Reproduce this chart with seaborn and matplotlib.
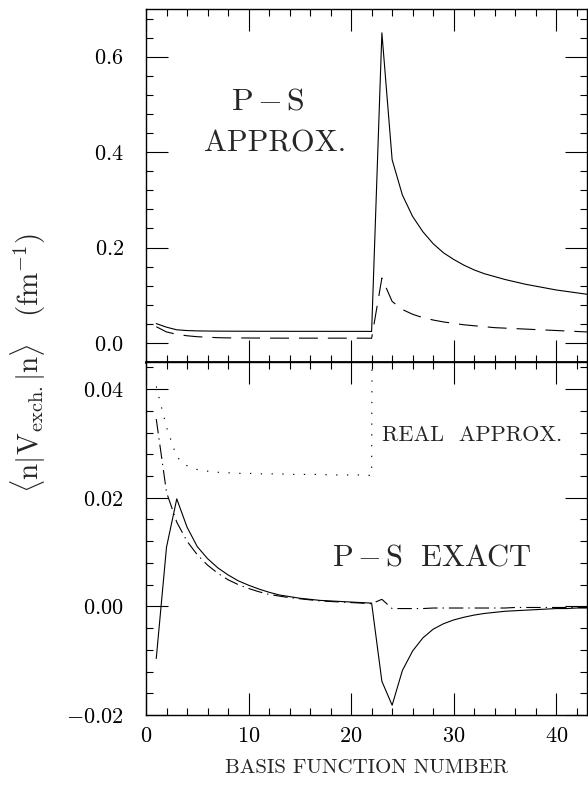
import matplotlib
matplotlib.use('Agg')
import matplotlib.pyplot as plt
import seaborn as sns
from matplotlib.ticker import MultipleLocator, FuncFormatter

# numero de funcion de base
n = list(range(1, 44))

# P-S approx: linea solida arriba, punteada ("REAL APPROX.") abajo
ps_approx = [0.0405, 0.0330, 0.0275, 0.0259, 0.0252, 0.0249, 0.0247, 0.0246, 0.0245, 0.0245,
             0.0244, 0.0244, 0.0244, 0.0243, 0.0243, 0.0243, 0.0243, 0.0242, 0.0242, 0.0242,
             0.0242, 0.0241, 0.650, 0.384, 0.310, 0.265, 0.233, 0.208, 0.189, 0.175,
             0.163, 0.153, 0.145, 0.139, 0.133, 0.128, 0.123, 0.119, 0.115, 0.111,
             0.108, 0.105, 0.102]
# P-S approx, linea discontinua (panel superior)
ps_approx_dash = [0.034, 0.023, 0.018, 0.015, 0.013, 0.012, 0.011, 0.0105, 0.0105, 0.0103,
                  0.0102, 0.0101, 0.0100, 0.0100, 0.0100, 0.0100, 0.0100, 0.0100, 0.0100, 0.0100,
                  0.0100, 0.0098, 0.136, 0.087, 0.070, 0.060, 0.053, 0.048, 0.044, 0.041,
                  0.038, 0.036, 0.034, 0.032, 0.031, 0.030, 0.029, 0.028, 0.027, 0.026,
                  0.025, 0.024, 0.023]
# P-S exact, linea solida (panel inferior)
ps_exact = [-0.0096, 0.0109, 0.0198, 0.0146, 0.0110, 0.0088, 0.0071, 0.0058, 0.0047, 0.0039,
            0.0032, 0.0026, 0.0021, 0.0018, 0.0015, 0.0013, 0.0011, 0.0010, 0.0009, 0.0008,
            0.0007, 0.0006, -0.0138, -0.0182, -0.0118, -0.0082, -0.0058, -0.0042, -0.0032, -0.0025,
            -0.0020, -0.0016, -0.0013, -0.0011, -0.0009, -0.0008, -0.0007, -0.0006, -0.0005, -0.0004,
            -0.0004, -0.0003, -0.0003]
# linea punto-raya (panel inferior)
ps_exact_dd = [0.0345, 0.0210, 0.0155, 0.0120, 0.0095, 0.0076, 0.0061, 0.0049, 0.0040, 0.0033,
               0.0027, 0.0022, 0.0019, 0.0016, 0.0014, 0.0012, 0.0010, 0.0009, 0.0008, 0.0007,
               0.0006, 0.0005, 0.0013, -0.0004, -0.0004, -0.0004, -0.0004, -0.0003, -0.0003, -0.0003,
               -0.0003, -0.0003, -0.0003, -0.0003, -0.0003, -0.0002, -0.0002, -0.0002, -0.0002, -0.0002,
               -0.0002, -0.0002, -0.0002]

top_ticks = [0.0, 0.2, 0.4, 0.6]
bot_ticks = [-0.02, 0.00, 0.02, 0.04]
x_ticks = [0, 10, 20, 30, 40]

sns.set_style('ticks')
plt.rcParams['font.family'] = ['cmr10', 'DejaVu Serif']
plt.rcParams['mathtext.fontset'] = 'cm'
plt.rcParams['axes.formatter.use_mathtext'] = True

fig = plt.figure(figsize=(5.88, 7.87), dpi=100)
W, H = 588, 787
ax_top = fig.add_axes([146 / W, 1 - 362 / H, 441 / W, 353 / H])
ax_bot = fig.add_axes([146 / W, 1 - 715 / H, 441 / W, 353 / H])

lw = 0.8
sns.lineplot(x=n, y=ps_approx, ax=ax_top, color='black', linewidth=lw, errorbar=None)
sns.lineplot(x=n, y=ps_approx_dash, ax=ax_top, color='black', linewidth=lw, errorbar=None,
             linestyle=(0, (17, 9)))
sns.lineplot(x=n, y=ps_approx, ax=ax_bot, color='black', linewidth=lw, errorbar=None,
             linestyle=(0, (1.2, 8.5)))
sns.lineplot(x=n, y=ps_exact, ax=ax_bot, color='black', linewidth=lw, errorbar=None)
sns.lineplot(x=n, y=ps_exact_dd, ax=ax_bot, color='black', linewidth=lw, errorbar=None,
             linestyle=(0, (13, 4.5, 1.2, 4.5)))

ax_top.set_ylim(-0.04, 0.7)
ax_bot.set_ylim(-0.02, 0.045)
for ax in (ax_top, ax_bot):
    ax.set_xlim(0, 43)
    ax.set_xticks(x_ticks)
    ax.xaxis.set_minor_locator(MultipleLocator(2))
    ax.tick_params(which='both', direction='in', top=True, right=True, width=0.8, colors='black')
    ax.tick_params(which='major', length=16, labelsize=16)
    ax.tick_params(which='minor', length=5)
    ax.tick_params(axis='y', pad=16)
    ax.tick_params(axis='x', pad=8)
    for s in ax.spines.values():
        s.set_linewidth(1.0)
        s.set_color('black')
    ax.set_xlabel('')
    ax.set_ylabel('')

ax_top.set_yticks(top_ticks)
ax_top.yaxis.set_minor_locator(MultipleLocator(0.04))
ax_top.yaxis.set_major_formatter(FuncFormatter(lambda v, p: f'${v:.1f}$'))
ax_top.tick_params(labelbottom=False)
ax_top.spines['bottom'].set_linewidth(2.0)

ax_bot.set_yticks(bot_ticks)
ax_bot.yaxis.set_minor_locator(MultipleLocator(0.004))
ax_bot.yaxis.set_major_formatter(FuncFormatter(lambda v, p: f'${v:.2f}$'))
ax_bot.xaxis.set_major_formatter(FuncFormatter(lambda v, p: f'${v:.0f}$'))
ax_bot.set_xlabel('BASIS FUNCTION NUMBER', fontsize=15, labelpad=10)

ax_top.text(0.277, 0.738, r'$\mathrm{P\,{-}\,S}$', transform=ax_top.transAxes, fontsize=23,
            ha='center', va='center')
ax_top.text(0.293, 0.618, 'APPROX.', transform=ax_top.transAxes, fontsize=22,
            ha='center', va='center')
ax_bot.text(0.739, 0.793, 'REAL  APPROX.', transform=ax_bot.transAxes, fontsize=16,
            ha='center', va='center')
ax_bot.text(0.649, 0.445, r'$\mathrm{P\,{-}\,S\ \ EXACT}$', transform=ax_bot.transAxes, fontsize=22,
            ha='center', va='center')

fig.text(28 / W, 1 - 363 / H,
         r'$\langle \mathrm{n} | \mathrm{V}_{\mathrm{exch.}} | \mathrm{n} \rangle\quad(\mathrm{fm}^{-1})$',
         rotation=90, ha='center', va='center', fontsize=21)

fig.savefig('out.png', dpi=100)
